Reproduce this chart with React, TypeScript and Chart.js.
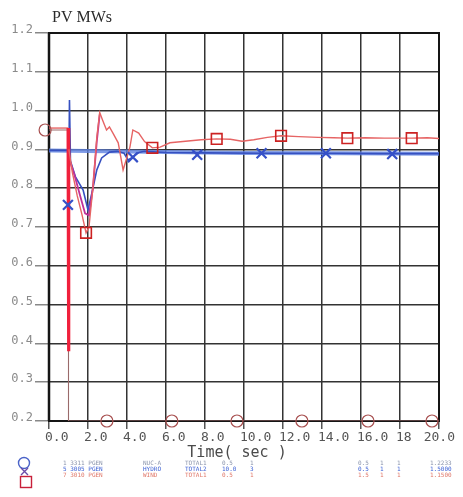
import React, { useEffect, useRef } from "react";
import { Chart, registerables } from "chart.js";

Chart.register(...registerables);

// ---------- axis setup ----------
const Y_MIN = 0.2;
const Y_MAX = 1.2;
const Y_STEP = 0.1;
const X_MIN = 0;
const X_MAX = 20;
const X_STEP = 2;
const X_TICK_VALUES = [0, 2, 4, 6, 8, 10, 12, 14, 16, 18, 20];
const X_TICK_LABELS = ["0.0", "2.0", "4.0", "6.0", "8.0", "10.0", "12.0", "14.0", "16.0", "18", "20.0"];
const CHART_TITLE = "PV MWs";
const X_TITLE = "Time( sec )";

// ---------- series: red (square markers) ----------
const RED_T = [0, 0.98, 1.0, 1.02, 1.2, 1.45, 1.7, 1.9, 2.05, 2.25, 2.45, 2.6, 2.75, 2.95, 3.1, 3.3, 3.55, 3.8, 4.0, 4.15, 4.3, 4.6, 4.9, 5.3, 5.7, 6.2, 7.0, 7.8, 8.6, 9.3, 9.9, 10.5, 11.2, 11.9, 12.8, 13.8, 14.6, 15.3, 16.2, 17.2, 18.6, 19.4, 20];
const RED_V = [0.955, 0.955, 0.38, 0.90, 0.84, 0.78, 0.73, 0.685, 0.70, 0.80, 0.93, 0.995, 0.975, 0.95, 0.958, 0.94, 0.917, 0.847, 0.88, 0.906, 0.95, 0.942, 0.92, 0.904, 0.906, 0.917, 0.921, 0.925, 0.927, 0.926, 0.921, 0.925, 0.931, 0.935, 0.933, 0.931, 0.930, 0.929, 0.930, 0.929, 0.929, 0.930, 0.928];
const RED_MARK_T = [1.9, 5.3, 8.6, 11.9, 15.3, 18.6];
const RED_MARK_V = [0.685, 0.904, 0.927, 0.935, 0.929, 0.929];

// ---------- series: magenta transient ----------
const MAG_T = [1.04, 1.3, 1.6, 1.85, 2.05, 2.25, 2.45, 2.6];
const MAG_V = [0.875, 0.835, 0.78, 0.735, 0.73, 0.80, 0.92, 0.99];

// ---------- series: blue dynamic (X markers) ----------
const BLUE_T = [0, 0.99, 1.0, 1.05, 1.1, 1.35, 1.75, 2.0, 2.2, 2.45, 2.7, 3.1, 3.5, 3.85, 4.05, 4.3, 4.6, 4.9, 6, 8, 11, 14, 17, 20];
const BLUE_V = [0.897, 0.897, 0.757, 1.027, 0.87, 0.83, 0.795, 0.744, 0.788, 0.847, 0.878, 0.893, 0.895, 0.89, 0.873, 0.88, 0.892, 0.895, 0.892, 0.891, 0.890, 0.890, 0.889, 0.889];
const BLUE_MARK_T = [0.97, 4.3, 7.6, 10.9, 14.2, 17.6];
const BLUE_MARK_V = [0.757, 0.88, 0.886, 0.89, 0.89, 0.888];

// ---------- series: blue band ----------
const BAND_T = [0, 5, 10, 15, 20];
const BAND_V = [0.897, 0.894, 0.891, 0.890, 0.889];

// ---------- series: circle ----------
const CIRC_T = [0, 1.0, 1.0, 20];
const CIRC_V = [0.95, 0.95, 0.2, 0.2];
const CIRC_MARK_T = [-0.2, 2.97, 6.3, 9.64, 12.97, 16.36, 19.64];
const CIRC_MARK_V = [0.95, 0.2, 0.2, 0.2, 0.2, 0.2, 0.2];

// ---------- legend text rows ----------
const LEGEND_COL1 = ["1 3311 PGEN", "5 3005 PGEN", "7 3010 PGEN"];
const LEGEND_COL2 = ["NUC-A", "HYDRO", "WIND"];
const LEGEND_COL3 = ["TOTAL1", "TOTAL2", "TOTAL1"];
const LEGEND_COL4 = ["0.5", "10.0", "0.5"];
const LEGEND_COL5 = ["1", "3", "1"];
const LEGEND_COL6 = ["0.5", "0.5", "1.5"];
const LEGEND_COL7 = ["1", "1", "1"];
const LEGEND_COL8 = ["1", "1", "1"];
const LEGEND_COL9 = ["1.2233", "1.5000", "1.1500"];

const zip = (t: number[], v: number[]) => t.map((x, i) => ({ x, y: v[i] }));

const decorPlugin = {
  id: "decor",
  beforeDatasetsDraw(chart: any) {
    const { ctx, chartArea: a } = chart;
    ctx.save();
    ctx.strokeStyle = "#151515";
    ctx.lineWidth = 2;
    ctx.strokeRect(a.left, a.top, a.right - a.left, a.bottom - a.top);
    ctx.lineWidth = 2.5;
    ctx.beginPath();
    ctx.moveTo(a.left, a.top);
    ctx.lineTo(a.left, a.bottom);
    ctx.stroke();
    ctx.restore();
  },
  afterDraw(chart: any) {
    const { ctx, chartArea: a } = chart;
    const xs = chart.scales.x;
    ctx.save();
    // title
    ctx.font = '16px "Liberation Serif"';
    ctx.fillStyle = "#2a2a2a";
    ctx.textAlign = "left";
    ctx.textBaseline = "alphabetic";
    ctx.fillText(CHART_TITLE, 52, 22);
    // x tick labels
    ctx.font = '13px "DejaVu Sans Mono"';
    ctx.fillStyle = "#555";
    ctx.textBaseline = "middle";
    X_TICK_VALUES.forEach((v, i) => {
      const px = xs.getPixelForValue(v);
      const last = i === X_TICK_VALUES.length - 1;
      ctx.textAlign = last ? "right" : "left";
      ctx.fillText(X_TICK_LABELS[i], last ? px + 16 : px - 4, a.bottom + 17);
    });
    // x title
    ctx.font = '15px "DejaVu Sans Mono"';
    ctx.fillStyle = "#4a4a4a";
    ctx.textAlign = "center";
    ctx.fillText(X_TITLE, 237, a.bottom + 32);
    // legend symbols
    ctx.lineWidth = 1.4;
    ctx.strokeStyle = "#4a63c8";
    ctx.beginPath();
    ctx.arc(24, 463, 5.5, 0, Math.PI * 2);
    ctx.stroke();
    ctx.strokeStyle = "#6a4aa8";
    ctx.beginPath();
    ctx.moveTo(21, 468);
    ctx.lineTo(28, 475);
    ctx.moveTo(28, 468);
    ctx.lineTo(21, 475);
    ctx.stroke();
    ctx.strokeStyle = "#c8203a";
    ctx.strokeRect(20.5, 476.5, 11, 11);
    // legend text
    const colors = ["#8b95ad", "#3d62d6", "#e0786a"];
    const cols: [string[], number][] = [
      [LEGEND_COL1, 63], [LEGEND_COL2, 143], [LEGEND_COL3, 185], [LEGEND_COL4, 222],
      [LEGEND_COL5, 250], [LEGEND_COL6, 358], [LEGEND_COL7, 380], [LEGEND_COL8, 397], [LEGEND_COL9, 430],
    ];
    ctx.font = '6px "DejaVu Sans Mono"';
    ctx.textAlign = "left";
    ctx.textBaseline = "middle";
    [463, 469, 475].forEach((y, r) => {
      ctx.fillStyle = colors[r];
      cols.forEach(([arr, x]) => ctx.fillText(arr[r], x, y));
    });
    ctx.restore();
  },
};

export default function App() {
  const ref = useRef<HTMLCanvasElement | null>(null);
  useEffect(() => {
    document.body.style.margin = "0";
    document.body.style.background = "#ffffff";
    const canvas = ref.current!;
    const chart = new Chart(canvas, {
      type: "line",
      data: {
        datasets: [
          {
            label: "red markers",
            data: zip(RED_MARK_T, RED_MARK_V),
            showLine: false,
            pointStyle: "rect",
            pointRadius: 7.5,
            pointBorderColor: "#cc2222",
            pointBackgroundColor: "rgba(0,0,0,0)",
            pointBorderWidth: 1.6,
            clip: false,
          } as any,
          {
            label: "blue markers",
            data: zip(BLUE_MARK_T, BLUE_MARK_V),
            showLine: false,
            pointStyle: "crossRot",
            pointRadius: 7,
            pointBorderColor: "#3550c8",
            pointBorderWidth: 2.2,
            clip: false,
          } as any,
          {
            label: "circle markers",
            data: zip(CIRC_MARK_T, CIRC_MARK_V),
            showLine: false,
            pointStyle: "circle",
            pointRadius: 6,
            pointBorderColor: "#a85050",
            pointBackgroundColor: "rgba(0,0,0,0)",
            pointBorderWidth: 1.2,
            clip: false,
          } as any,
          {
            label: "red",
            data: zip(RED_T, RED_V),
            borderColor: "#e66464",
            borderWidth: 1.4,
            pointRadius: 0,
            tension: 0,
            segment: {
              borderWidth: (c: any) => (c.p0DataIndex === 1 || c.p0DataIndex === 2 ? 3.2 : 1.4),
              borderColor: (c: any) => (c.p0DataIndex === 1 || c.p0DataIndex === 2 ? "#f0203c" : "#e66464"),
            },
          } as any,
          {
            label: "magenta",
            data: zip(MAG_T, MAG_V),
            borderColor: "#c0309a",
            borderWidth: 1.8,
            pointRadius: 0,
          },
          {
            label: "blue",
            data: zip(BLUE_T, BLUE_V),
            borderColor: "#3650c0",
            borderWidth: 1.6,
            pointRadius: 0,
          },
          {
            label: "band",
            data: zip(BAND_T, BAND_V),
            borderColor: "rgba(95,130,225,0.8)",
            borderWidth: 4,
            pointRadius: 0,
          },
          {
            label: "circle",
            data: zip(CIRC_T, CIRC_V),
            borderColor: "#9a6a6a",
            borderWidth: 1.1,
            pointRadius: 0,
          },
        ],
      },
      options: {
        animation: false,
        responsive: false,
        devicePixelRatio: 1,
        layout: { padding: { top: 33, right: 24, bottom: 0, left: 0 } },
        plugins: { legend: { display: false }, tooltip: { enabled: false }, title: { display: false } },
        scales: {
          x: {
            type: "linear",
            min: X_MIN,
            max: X_MAX,
            ticks: { stepSize: X_STEP, display: false },
            grid: { color: "#333333", lineWidth: 1.5, tickLength: 8, tickColor: "#555", drawTicks: true },
            border: { display: false },
            afterFit: (s: any) => { s.height = 76; },
          },
          y: {
            type: "linear",
            min: Y_MIN,
            max: Y_MAX,
            ticks: {
              stepSize: Y_STEP,
              padding: 2,
              labelOffset: -3,
              color: "#8a8a8a",
              font: { family: "DejaVu Sans Mono", size: 12 },
              callback: (v: any) => Number(v).toFixed(1),
            },
            grid: { color: "#333333", lineWidth: 1.5, tickLength: 14, tickColor: "#888" },
            border: { display: false },
            afterFit: (s: any) => { s.width = 49; },
          },
        },
      },
      plugins: [decorPlugin],
    } as any);
    return () => chart.destroy();
  }, []);
  return <canvas ref={ref} width={463} height={497} style={{ display: "block" }} />;
}
